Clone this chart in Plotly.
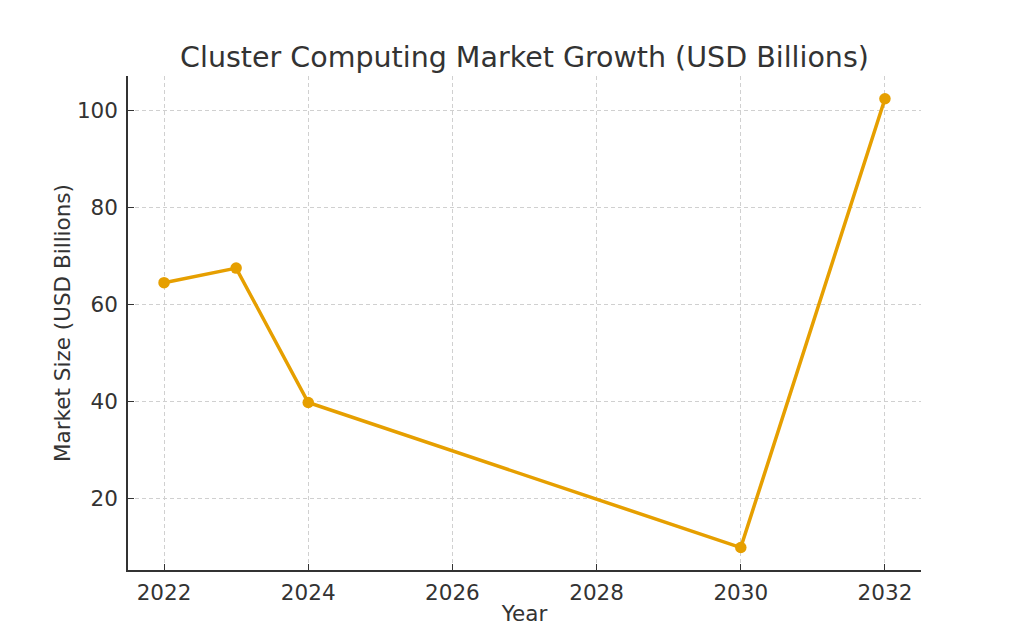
import plotly.graph_objects as go

years = [2022, 2023, 2024, 2030, 2032]
market_size = [64.5, 67.5, 39.8, 9.9, 102.4]
x_ticks = [2022, 2024, 2026, 2028, 2030, 2032]
y_ticks = [20, 40, 60, 80, 100]

color = "#E69F00"
text_color = "#333333"
font_family = "DejaVu Sans"

fig = go.Figure()
fig.add_trace(go.Scatter(
    x=years, y=market_size, mode="lines+markers",
    line=dict(color=color, width=3.5),
    marker=dict(color=color, size=11.5),
    showlegend=False,
))

axis_common = dict(
    showgrid=True, gridcolor="#d0d0d0", griddash="4px,3px", gridwidth=1,
    showline=True, linecolor=text_color, linewidth=1.5,
    ticks="inside", ticklen=6, tickcolor=text_color, tickwidth=1,
    zeroline=False, tickfont=dict(size=21.5, color=text_color, family=font_family),
)

fig.update_layout(
    width=1024, height=640,
    paper_bgcolor="white", plot_bgcolor="white",
    margin=dict(l=120, r=111, t=68, b=78),
    font=dict(family=font_family, color=text_color),
    title=dict(text="Cluster Computing Market Growth (USD Billions)",
               x=(120 + (1024 - 111 - 120) / 2) / 1024, xanchor="center",
               y=1 - 49 / 640, yanchor="middle",
               font=dict(size=28.5, color=text_color, family=font_family)),
    xaxis=dict(range=[2021.5, 2032.5], tickvals=x_ticks,
               title=dict(text="Year", font=dict(size=21.5, color=text_color), standoff=2),
               ticklabelstandoff=2, **axis_common),
    yaxis=dict(range=[5.27, 107.1], tickvals=y_ticks,
               title=dict(text="Market Size (USD Billions)", font=dict(size=21.5, color=text_color), standoff=0),
               ticklabelstandoff=4, **axis_common),
)

fig.write_html("out.html")
